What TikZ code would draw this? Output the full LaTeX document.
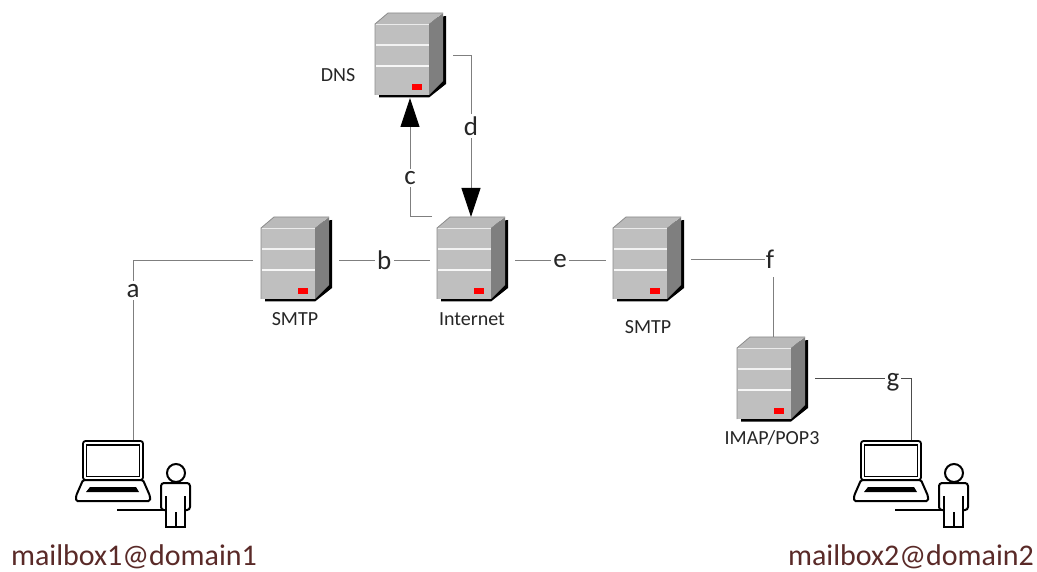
\documentclass[tikz,border=0pt]{standalone}
\usepackage{fontspec}
\setmainfont{Carlito}
\usetikzlibrary{arrows.meta}
\definecolor{mailtext}{HTML}{5A2A28}
\definecolor{linegray}{HTML}{7F7F7F}
\tikzset{
  x=1pt,y=-1pt,
  link/.style={draw=linegray,line width=0.9pt},
  flow/.style={link,-{Triangle[length=29pt,width=19pt,color=black]}},
  linklabel/.style={fill=white,inner sep=2.5pt,font=\fontsize{27}{27}\selectfont,text=black!85},
  srvlabel/.style={inner sep=0pt,font=\fontsize{20}{22}\selectfont,text=black!85},
  maillabel/.style={inner sep=0pt,font=\fontsize{30}{32}\selectfont,text=mailtext},
  anchorbox/.style={inner sep=0pt,minimum width=70pt,minimum height=84pt},
  server/.pic={
    \fill[black] (4,12) -- (71,3) -- (71,71) -- (54,84.5) -- (4,84.5) -- cycle;
    \fill[linegray] (54,11) -- (68,0) -- (68,68) -- (54,82) -- cycle;
    \fill[black!27] (0,11) -- (13,0) -- (68,0) -- (54,11) -- cycle;
    \fill[black!25] (0,11) rectangle (54,82);
    \draw[black!45,line width=0.8pt] (0,82) -- (0,11) -- (13,0) -- (68,0);
    \draw[black!8,line width=1.2pt] (1,11.5) -- (54,11.5);
    \draw[black!40,line width=0.6pt] (1,31) -- (54,31);
    \draw[black!5,line width=1.2pt] (1,32) -- (54,32);
    \draw[black!40,line width=0.6pt] (1,52) -- (54,52);
    \draw[black!3,line width=1.2pt] (1,53) -- (54,53);
    \fill[red] (37,71) rectangle (47,77);
  },
  laptop/.pic={
    \draw[black,line width=1.8pt,rounded corners=2.5pt] (1,0) rectangle (61,39);
    \draw[black,line width=1.5pt] (4.5,4) rectangle (57.5,35.5);
    \draw[black,line width=2pt,rounded corners=1.5pt,fill=white] (1,39) -- (61,39) -- (68,55) -- (68,60) -- (-6,60) -- (-6,55) -- cycle;
    \fill[black] (8,46) -- (54,46) -- (57,51) -- (4,51) -- cycle;
    % user
    \draw[black,line width=2pt] (94,32) circle (9);
    \draw[black,line width=2pt,rounded corners=3pt,fill=white] (83,69) -- (79,69) -- (79,42) -- (108,42) -- (108,69) -- (103,69);
    \draw[black,line width=2pt] (84,55) -- (84,86) -- (103,86) -- (103,55);
    \draw[black,line width=2pt] (93.5,71) -- (93.5,86);
    \draw[black,line width=2pt] (35,69) -- (84,69);
  }
}
\begin{document}
\begin{tikzpicture}
\useasboundingbox (0,0) rectangle (1037,572);
\pic at (375,13) {server};
\pic at (261,217) {server};
\pic at (437,217) {server};
\pic at (613,217) {server};
\pic at (737,337) {server};
\pic at (82,441) {laptop};
\pic at (860,441) {laptop};
% invisible named nodes
\node[anchorbox,anchor=north west] (dns) at (375,13) {};
\node[anchorbox,anchor=north west] (smtpa) at (261,217) {};
\node[anchorbox,anchor=north west] (inet) at (437,217) {};
\node[anchorbox,anchor=north west] (smtpb) at (613,217) {};
\node[anchorbox,anchor=north west] (imap) at (737,337) {};
\node[inner sep=0pt,minimum width=60pt,minimum height=1pt,anchor=north west] (pca) at (83,440) {};
\node[inner sep=0pt,minimum width=60pt,minimum height=1pt,anchor=north west] (pcb) at (861,440) {};
\coordinate (cornA) at (133,260);
\coordinate (cornC) at (410,216);
\coordinate (cornD) at (471,55);
\coordinate (cornF) at (773,259);
\coordinate (cornG) at (911,378);
\coordinate (startA) at (253,260);
\coordinate (endC) at (410,98);
\coordinate (startD) at (453,55);
\coordinate (endD) at (471,217);
\coordinate (startC) at (432,216);
% connectors
\draw[link] (smtpa.west |- startA) [shorten <=8pt] -- (cornA) -- (pca.north -| cornA) node[pos=0.17,linklabel] {a};
\draw[link,shorten <=8pt,shorten >=7pt] (smtpa.east |- startA) -- (inet.west |- startA) node[midway,linklabel] {b};
\draw[flow] (startC) -- (cornC) -- (endC) node[pos=0.32,linklabel] {c};
\draw[flow] (startD) -- (cornD) -- (endD) node[pos=0.44,linklabel] {d};
\draw[link,shorten <=8pt,shorten >=7pt] (inet.east |- startA) -- (smtpb.west |- startA) node[midway,linklabel,yshift=-1pt] {e};
\draw[link,shorten <=8pt] (smtpb.east |- cornF) -- (cornF) -- (imap.north -| cornF);
\node[linklabel,inner xsep=1pt,minimum height=35pt] (lblf) at (770,259.5) {f};
\draw[link,black!70] (imap.east |- cornG) [shorten <=8pt] -- (cornG) -- (pcb.north -| cornG);
\node[linklabel,inner xsep=1.5pt] (lblg) at (893,382) {g};
% server labels
\node[srvlabel] (tdns) at (338,75) {DNS};
\node[srvlabel] (tsmtpa) at (295,319) {SMTP};
\node[srvlabel] (tinet) at (472,319) {Internet};
\node[srvlabel] (tsmtpb) at (648,327) {SMTP};
\node[srvlabel] (timap) at (772,438) {IMAP/POP3};
\node[maillabel] (ma) at (134,556.5) {mailbox1@domain1};
\node[maillabel] (mb) at (911,556.5) {mailbox2@domain2};
\end{tikzpicture}
\end{document}
